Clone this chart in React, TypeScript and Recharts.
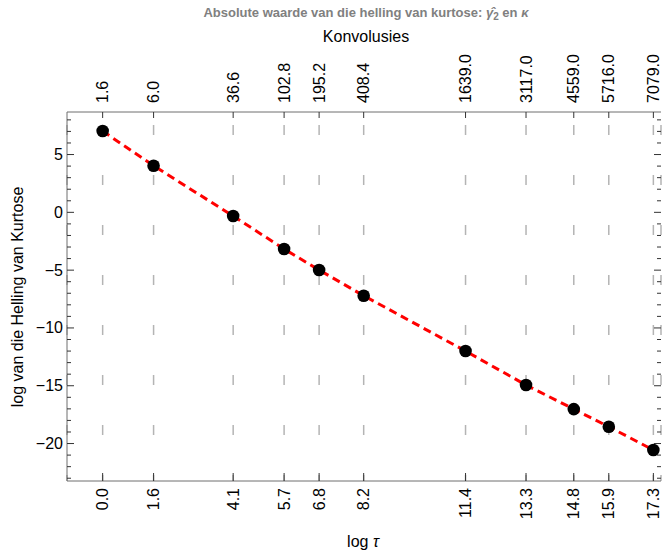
import { ComposedChart, XAxis, YAxis, CartesianGrid, Line, Scatter } from "recharts";

// log tau on the bottom axis, convolution counts on the top axis
const logTau = [0.0, 1.6, 4.1, 5.7, 6.8, 8.2, 11.4, 13.3, 14.8, 15.9, 17.3];
const convolutions = ["1.6", "6.0", "36.6", "102.8", "195.2", "408.4", "1639.0", "3117.0", "4559.0", "5716.0", "7079.0"];
const logSlope = [7.03, 4.03, -0.32, -3.17, -4.99, -7.21, -12.0, -14.94, -17.02, -18.55, -20.56];
const yTicks = [-23, -22, -21, -20, -19, -18, -17, -16, -15, -14, -13, -12, -11, -10, -9, -8, -7, -6, -5, -4, -3, -2, -1, 0, 1, 2, 3, 4, 5, 6, 7, 8];

const chartData = logTau.map((x, i) => ({ x, y: logSlope[i] }));

const FONT = "'Liberation Sans', Arial, sans-serif";
const AXIS = "#6e6e6e";
const TICK = "#333";

const fmt = (v: number) => (v < 0 ? "\u2212" + Math.abs(v) : String(v));

function LeftTick({ x, y, payload }: any) {
  const v = payload.value;
  const major = v % 5 === 0;
  const ax = x + 4;
  return (
    <g>
      <line x1={ax} x2={ax + (major ? 7 : 4)} y1={y} y2={y} stroke={TICK} strokeWidth={1} />
      {major && (
        <text x={x} y={y} textAnchor="end" dominantBaseline="central" fontSize={16} fontFamily={FONT} fill="#000">
          {fmt(v)}
        </text>
      )}
    </g>
  );
}

function RightTick({ x, y, payload }: any) {
  const major = payload.value % 5 === 0;
  return <line x1={x} x2={x - (major ? 7 : 4)} y1={y} y2={y} stroke={TICK} strokeWidth={1} />;
}

function BottomTick({ x, y, payload }: any) {
  const ay = y - 7;
  return (
    <g>
      <line x1={x} x2={x} y1={ay} y2={ay - 8} stroke={TICK} strokeWidth={1} />
      <text x={x} y={y} transform={`rotate(-90 ${x} ${y})`} textAnchor="end" dominantBaseline="central" fontSize={16} fontFamily={FONT} fill="#000">
        {payload.value.toFixed(1)}
      </text>
    </g>
  );
}

function TopTick({ x, y, index }: any) {
  const ay = y + 9;
  return (
    <g>
      <line x1={x} x2={x} y1={ay} y2={ay + 6} stroke={TICK} strokeWidth={1} />
      <text x={x} y={y} transform={`rotate(-90 ${x} ${y})`} textAnchor="start" dominantBaseline="central" fontSize={16} fontFamily={FONT} fill="#000">
        {convolutions[index]}
      </text>
    </g>
  );
}

export default function App() {
  return (
    <div style={{ position: "absolute", left: 0, top: 0, width: 662, height: 552, background: "#fff" }}>
      <ComposedChart width={662} height={552} data={chartData} margin={{ top: 0, right: 0, bottom: 0, left: 0 }}>
        <CartesianGrid xAxisId="bottom" yAxisId="left" horizontal={false} stroke="#b4b4b4" strokeWidth={1.5} strokeDasharray="10 40" strokeDashoffset={37} />
        <XAxis xAxisId="bottom" dataKey="x" type="number" domain={[-1.12, 17.54]} allowDataOverflow ticks={logTau} interval={0} height={71} tickSize={0} tickMargin={7} tickLine={false} axisLine={{ stroke: AXIS }} tick={<BottomTick />} />
        <XAxis xAxisId="top" orientation="top" dataKey="x" type="number" domain={[-1.12, 17.54]} allowDataOverflow ticks={logTau} interval={0} height={112} tickSize={0} tickMargin={9} tickLine={false} axisLine={{ stroke: AXIS }} tick={<TopTick />} />
        <YAxis yAxisId="left" type="number" domain={[-23.24, 8.68]} allowDataOverflow ticks={yTicks} interval={0} width={67} tickSize={0} tickMargin={4} tickLine={false} axisLine={{ stroke: AXIS }} tick={<LeftTick />} />
        <YAxis yAxisId="right" orientation="right" type="number" domain={[-23.24, 8.68]} allowDataOverflow ticks={yTicks} interval={0} width={1} tickSize={0} tickMargin={0} tickLine={false} axisLine={false} tick={<RightTick />} />
        <Scatter xAxisId="bottom" yAxisId="left" data={chartData} dataKey="y" isAnimationActive={false} shape={(p: any) => <circle cx={p.cx} cy={p.cy} r={6.3} fill="#000" />} />
        <Line xAxisId="bottom" yAxisId="left" dataKey="y" type="linear" stroke="#ff0000" strokeWidth={3} strokeDasharray="8 5" dot={false} activeDot={false} isAnimationActive={false} />
      </ComposedChart>
      <svg width={662} height={552} style={{ position: "absolute", left: 0, top: 0, pointerEvents: "none" }}>
        <text x={366} y={17} textAnchor="middle" fontSize={13} fontWeight="bold" fontFamily={FONT} fill="#808080">
          Absolute waarde van die helling van kurtose:{" "}
          <tspan fontStyle="italic">{"\u03B3\u0302"}</tspan>
          <tspan fontSize={10} dy={3}>2</tspan>
          <tspan dy={-3}> en </tspan>
          <tspan fontStyle="italic">{"\u03BA"}</tspan>
        </text>
        <text x={366} y={42} textAnchor="middle" fontSize={16} fontFamily={FONT} fill="#000">
          Konvolusies
        </text>
        <text x={23} y={297} transform="rotate(-90 23 297)" textAnchor="middle" fontSize={16} fontFamily={FONT} fill="#000">
          log van die Helling van Kurtose
        </text>
        <text x={363} y={547} textAnchor="middle" fontSize={16} fontFamily={FONT} fill="#000">
          log <tspan fontStyle="italic">{"\u03C4"}</tspan>
        </text>
      </svg>
    </div>
  );
}
